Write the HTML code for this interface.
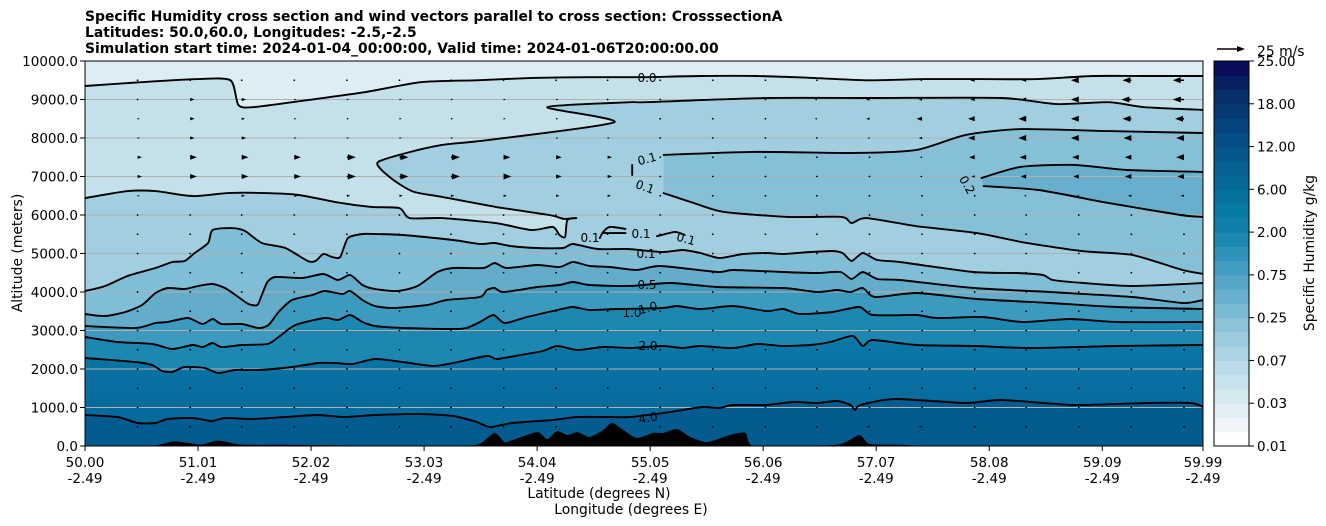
<!DOCTYPE html>
<html><head><meta charset="utf-8"><style>
html,body{margin:0;padding:0;background:#fff}
svg{display:block;font-family:"DejaVu Sans","Liberation Sans",sans-serif}
</style></head><body>
<svg id="chart" width="1326" height="526" viewBox="0 0 1326 526" xmlns="http://www.w3.org/2000/svg">
<defs>
<clipPath id="plotclip"><rect x="85" y="61" width="1118" height="385"/></clipPath>
<linearGradient id="g20" gradientUnits="userSpaceOnUse" x1="0" y1="340" x2="0" y2="410"><stop offset="0" stop-color="#0a78a7"/><stop offset="1" stop-color="#066a9c"/></linearGradient>
</defs>
<g font-weight="bold" font-size="13.9" fill="#000">
<text x="85" y="21">Specific Humidity cross section and wind vectors parallel to cross section: CrosssectionA</text>
<text x="85" y="37">Latitudes: 50.0,60.0, Longitudes: -2.5,-2.5</text>
<text x="85" y="53">Simulation start time: 2024-01-04_00:00:00, Valid time: 2024-01-06T20:00:00.00</text>
</g>
<g id="plot" clip-path="url(#plotclip)"></g>
<g id="axes"></g>
<g id="cbar"></g>
</svg>
<script>
// ---------- data ----------
const xTickLats = [50.00,51.01,52.02,53.03,54.04,55.05,56.06,57.07,58.08,59.09,59.99];
const xTickLabels = ['50.00','51.01','52.02','53.03','54.04','55.05','56.06','57.07','58.08','59.09','59.99'];
const xTickLons = ['-2.49','-2.49','-2.49','-2.49','-2.49','-2.49','-2.49','-2.49','-2.49','-2.49','-2.49'];
const yTicks = [0,1000,2000,3000,4000,5000,6000,7000,8000,9000,10000];
const cbTickLabels = ['0.01','0.03','0.07','0.25','0.75','2.00','6.00','12.00','18.00','25.00'];

const lineA = [[50.0,9350],[50.5,9450],[51.0,9530],[51.3,9500],[51.37,8860],[51.5,8800],[52.0,8990],[52.5,9190],[53.0,9450],[53.5,9500],[54.0,9560],[54.5,9580],[55.0,9580],[55.5,9610],[56.0,9610],[56.5,9560],[57.0,9500],[57.5,9530],[58.0,9530],[58.5,9530],[59.0,9610],[59.5,9610],[59.99,9610]];
const lineB = [[59.99,8730],[59.47,8800],[59.15,8930],[58.68,8880],[58.19,9040],[57.05,9040],[56.09,9040],[55.0,8930],[54.87,8930],[54.13,8800],[54.73,8410],[53.61,7950],[53.19,7820],[52.87,7610],[52.62,7380],[52.65,7170],[52.78,6860],[52.94,6600],[53.19,6470],[53.67,6210],[54.15,6000],[54.28,5900],[54.39,5920],[54.31,5870],[54.29,5430],[54.24,5480],[54.18,5690],[53.99,5610],[53.67,5790],[53.19,5920],[52.90,5920],[52.81,6180],[52.56,6210],[52.23,6340],[51.91,6520],[51.60,6570],[51.28,6570],[50.96,6490],[50.63,6620],[50.38,6620],[50.00,6440]];
const lineC0 = [[54.89,7300],[54.89,7040]];
const lineC = [[55.17,7560],[55.96,7640],[56.85,7610],[57.43,7690],[57.87,8080],[58.36,8230],[59.15,8180],[59.99,8130]];
const lineD1 = [[58.01,6960],[58.36,7250],[58.84,7300],[59.31,7170],[59.99,7120]];
const lineD2 = [[58.03,6750],[58.52,6650],[59.15,6310],[59.79,6000],[59.99,5950]];
const lineE = [[55.17,6570],[55.45,6300],[55.71,6080],[56.28,5950],[56.76,5950],[56.85,5790],[56.98,5920],[57.43,5710],[57.97,5530],[58.42,5270],[58.92,5060],[59.36,4960],[59.81,4570],[59.99,4470]];
const lineF1 = [[54.60,5400],[54.63,5560],[54.69,5690],[54.83,5640]];
const lineF2 = [[54.63,5530],[54.83,5530]];
const lineF3 = [[55.11,5450],[55.27,5560],[55.36,5480]];
const lineG = [[50.00,4025],[50.18,4155],[50.38,4415],[50.63,4623],[50.78,4778],[50.89,4804],[50.98,5012],[51.10,5272],[51.14,5610],[51.31,5661],[51.43,5584],[51.58,5272],[51.79,5142],[51.99,4804],[52.06,4804],[52.13,4986],[52.21,4908],[52.28,4908],[52.35,5402],[52.48,5506],[52.59,5506],[52.84,5480],[53.29,5350],[53.53,5246],[53.66,5272],[53.80,5194],[54.04,5142],[54.27,5142],[54.36,5246],[54.58,5116],[54.85,5116],[55.16,5038],[55.34,5090],[55.50,5012],[55.67,4882],[55.88,4986],[56.09,5012],[56.24,4986],[56.48,5038],[56.68,5064],[56.77,5012],[56.85,4804],[56.95,5012],[57.08,4830],[57.28,4778],[57.94,4519],[58.33,4493],[58.56,4441],[58.65,4311],[58.92,4233],[59.36,4155],[59.99,4233]];
const lineH = [[50.00,3428],[50.18,3376],[50.36,3480],[50.51,3662],[50.63,3973],[50.74,4103],[50.89,4077],[51.01,4155],[51.14,4207],[51.25,4103],[51.37,3870],[51.46,3688],[51.54,3662],[51.58,3921],[51.63,4259],[51.70,4389],[51.94,4363],[52.13,4467],[52.26,4311],[52.37,4441],[52.48,4181],[52.59,4077],[52.79,4025],[52.97,4155],[53.15,4519],[53.29,4623],[53.56,4623],[53.66,4752],[53.77,4623],[54.04,4701],[54.24,4649],[54.36,4778],[54.51,4675],[54.69,4649],[54.93,4571],[55.14,4675],[55.65,4519],[55.79,4571],[56.24,4519],[56.54,4493],[56.75,4519],[56.85,4337],[56.95,4519],[57.08,4337],[57.28,4311],[57.94,4103],[58.62,3999],[59.36,3870],[59.81,3714],[59.99,3792]];
const line05 = [[50.00,3116],[50.45,3064],[50.63,3194],[50.74,3220],[50.92,3324],[51.05,3168],[51.14,3298],[51.22,3168],[51.40,3168],[51.55,3064],[51.64,3142],[51.73,3480],[51.85,3792],[52.03,3921],[52.14,4025],[52.30,3947],[52.37,4025],[52.48,3792],[52.59,3636],[52.75,3584],[53.06,3662],[53.23,3792],[53.53,3870],[53.59,4051],[53.66,4103],[53.74,3999],[54.04,4129],[54.24,4181],[54.36,4259],[54.51,4181],[54.87,4155],[55.23,4233],[55.65,4129],[56.24,4103],[56.54,3999],[56.72,4051],[56.84,3999],[56.95,4103],[57.06,3870],[57.43,3973],[57.97,3818],[58.62,3714],[59.22,3610],[59.99,3558]];
const line10 = [[50.00,2831],[50.29,2701],[50.60,2649],[50.78,2519],[50.96,2623],[51.05,2571],[51.14,2675],[51.22,2571],[51.40,2623],[51.63,2649],[51.73,2831],[51.88,3142],[52.14,3324],[52.26,3272],[52.37,3402],[52.48,3220],[52.59,3116],[52.84,3064],[53.29,3038],[53.41,3064],[53.53,3220],[53.65,3402],[53.75,3194],[53.95,3350],[54.22,3532],[54.36,3610],[54.51,3532],[54.75,3558],[55.16,3584],[55.29,3636],[55.50,3558],[55.79,3636],[56.09,3506],[56.24,3558],[56.39,3428],[56.68,3480],[56.92,3610],[57.04,3402],[57.43,3402],[57.61,3324],[58.02,3350],[58.38,3220],[58.80,3298],[59.22,3220],[59.99,3220]];
const line20 = [[50.00,2285],[50.45,2181],[50.60,2104],[50.69,1948],[50.78,1922],[50.89,2052],[51.07,2026],[51.19,1896],[51.34,1974],[51.55,1974],[51.85,2052],[52.08,2156],[52.23,2156],[52.39,2130],[52.59,2259],[52.84,2181],[53.11,2078],[53.29,2156],[53.59,2337],[53.68,2259],[53.89,2363],[54.09,2467],[54.22,2597],[54.40,2493],[54.63,2571],[54.87,2545],[55.16,2597],[55.34,2545],[55.50,2597],[55.79,2545],[56.01,2649],[56.24,2597],[56.48,2623],[56.66,2701],[56.86,2857],[56.95,2597],[57.04,2753],[57.43,2623],[57.97,2597],[58.44,2545],[59.22,2597],[59.99,2623]];
const line40 = [[50.00,805],[50.29,753],[50.47,597],[50.63,597],[50.74,701],[50.96,727],[51.13,649],[51.25,727],[51.49,701],[51.79,753],[52.08,805],[52.32,753],[52.59,805],[52.99,831],[53.29,779],[53.50,623],[53.62,493],[53.82,597],[54.18,675],[54.40,753],[54.63,753],[54.87,753],[55.17,857],[55.34,935],[55.52,1013],[55.67,987],[55.79,1065],[56.09,1065],[56.33,1143],[56.54,1117],[56.72,1169],[56.84,1065],[56.88,935],[56.93,1065],[57.24,1221],[57.87,1117],[58.19,1195],[58.84,1065],[59.47,1117],[59.88,1117],[59.99,1013]];
const terrain = [[50.00,0],[50.58,0],[50.80,120],[51.03,40],[51.19,140],[51.39,40],[51.74,30],[52.19,20],[52.81,0],[53.35,0],[53.53,60],[53.66,340],[53.75,100],[53.82,155],[54.04,360],[54.13,180],[54.22,390],[54.31,285],[54.40,360],[54.51,235],[54.63,415],[54.71,600],[54.81,415],[54.93,210],[55.08,340],[55.17,340],[55.29,440],[55.41,235],[55.56,100],[55.76,285],[55.90,340],[55.97,0],[56.39,0],[56.75,50],[56.92,285],[57.01,60],[57.28,30],[57.73,0],[59.99,0]];

const windLats = [50.47,50.94,51.40,51.87,52.34,52.81,53.27,53.74,54.21,54.67,55.14,55.61,56.08,56.54,57.01,57.48,57.95,58.41,58.88,59.35,59.82];
const windAlts = [9500,9000,8500,8000,7500,7000,6500,6000,5500,5000,4500,4000,3500,3000,2500,2000,1500,1000,500];
const u9500 = [1,1,1,1,1,1,1,1,1,1,1,0,-1,-1,-1,-2,-4,-4,-7,-8,-10];
const u9000 = [1,4,4,2,2,2,2,2,2,1,1,0,0,-2,-3,-3,-4,-5,-7,-9,-10];
const u8500 = [2,4,3,2,2,2,2,2,2,2,1,0,-1,-2,-3,-5,-6,-7,-7,-8,-8];
const u8000 = [2,4,4,2,2,2,2,2,2,2,0,0,0,-1,-2,-3,-6,-7,-7,-7,-7];
const u7500 = [4,6,6,6,8,8,8,6,5,4,0,0,0,-1,-1,-2,-5,-6,-6,-6,-7];
const u7000 = [4,6,6,6,8,8,8,7,5,4,0,0,0,0,-1,-2,-3,-5,-5,-6,-6];
const u6500 = [2,3,3,3,3,3,3,3,3,3,0,0,0,0,0,-1,-1,-2,-2,-3,-3];
const u6000 = [1,1,1,1,1,1,1,1,1,1,0,0,0,0,0,0,0,0,0,0,0];
const u5500 = [0,0,0,0,0,0,0,0,0,0,0,0,0,0,0,0,0,0,0,0,0];
const u5000 = [0,0,0,0,0,0,0,0,0,0,0,0,0,0,0,0,0,0,0,0,0];
const u4500 = [0,0,0,0,0,0,0,0,0,0,0,0,0,0,0,0,0,0,0,0,0];
const u4000 = [0,0,0,0,0,0,0,0,0,0,0,0,0,0,0,0,0,0,0,0,0];
const u3500 = [0,0,0,0,0,0,0,0,0,0,0,0,0,0,0,0,0,0,0,0,0];
const u3000 = [0,0,0,0,0,0,0,0,0,0,0,0,0,0,0,0,0,0,0,0,0];
const u2500 = [0,0,0,0,0,0,0,0,0,0,0,0,0,0,0,0,0,0,0,0,0];
const u2000 = [0,0,0,0,0,0,0,0,0,0,0,0,0,0,0,0,0,0,0,0,0];
const u1500 = [0,0,0,0,0,0,0,0,0,0,0,0,0,0,0,0,0,0,0,0,0];
const u1000 = [0,0,0,0,0,0,0,0,0,0,0,0,0,0,0,0,0,0,0,0,0];
const u500  = [0,0,0,0,0,0,0,0,0,0,0,0,0,0,-3,-3,0,0,0,0,0];
const windU = [u9500,u9000,u8500,u8000,u7500,u7000,u6500,u6000,u5500,u5000,u4500,u4000,u3500,u3000,u2500,u2000,u1500,u1000,u500];
const keySpeed = 25;

// ---------- scales ----------
const X0=85, X1=1203, Y0=446, Y1=61;
const latMin=50, latMax=59.99, altMax=10000;
function xS(lat){return X0+(lat-latMin)/(latMax-latMin)*(X1-X0);}
function yS(alt){return Y0-alt/altMax*(Y0-Y1);}
const pxPerMs = 28/keySpeed;
const NS='http://www.w3.org/2000/svg';
function mk(tag,attrs,parent){const e=document.createElementNS(NS,tag);for(const k in attrs)e.setAttribute(k,attrs[k]);parent.appendChild(e);return e;}
function toPx(line){return line.map(p=>[xS(p[0]),yS(p[1])]);}
// smooth path (Catmull-Rom), continuing an existing path if cont=true
function smooth(P,cont){
  let d=(cont?'L':'M')+P[0][0].toFixed(1)+','+P[0][1].toFixed(1);
  const t=0.35;
  for(let i=0;i<P.length-1;i++){
    const p0=P[i-1]||P[i],p1=P[i],p2=P[i+1],p3=P[i+2]||P[i+1];
    const c1=[p1[0]+(p2[0]-p0[0])*t/2*1.0/1.5,p1[1]+(p2[1]-p0[1])*t/2/1.5];
    const c2=[p2[0]-(p3[0]-p1[0])*t/2/1.5,p2[1]-(p3[1]-p1[1])*t/2/1.5];
    d+=' C'+c1[0].toFixed(1)+','+c1[1].toFixed(1)+' '+c2[0].toFixed(1)+','+c2[1].toFixed(1)+' '+p2[0].toFixed(1)+','+p2[1].toFixed(1);
  }
  return d;
}

const plot=document.getElementById('plot');
const axes=document.getElementById('axes');
const cbar=document.getElementById('cbar');

let bg=mk('rect',{x:X0,y:Y1,width:X1-X0,height:Y0-Y1,fill:'#dcedf3'},plot);



function fillBelow(line,color,name){
  const P=toPx(line);
  const f=P[0], l=P[P.length-1];
  const xf=f[0]>l[0]?X1+5:X0-5, xl=l[0]>f[0]?X1+5:X0-5;
  let d='M'+xf+','+f[1]+' '+smooth(P,true)+' L'+xl+','+l[1]+' L'+xl+','+(Y0+10)+' L'+xf+','+(Y0+10)+' Z';
  const p=mk('path',{d:d,fill:color},plot);
  
  
}
function fillBetween(l1,l2,color,name){
  const d=smooth(toPx(l1),false)+' '+smooth(toPx(l2).reverse(),true)+' Z';
  const p=mk('path',{d:d,fill:color},plot);
  
  
}
fillBelow(lineA,'#c4e1ea','fill-below-0.0');
fillBelow(lineB,'#a2cfdf','fill-below-0.1');
fillBetween(lineC,lineE,'#86c0d7','fill-0.1-0.2');
fillBetween(lineD1,lineD2,'#68afcd','fill-above-0.2');
fillBelow(lineG,'#80bdd6','fill-below-0.1-lower');
fillBelow(lineH,'#63adcb','fill-0.25');
fillBelow(line05,'#3d9abf','fill-0.5');
fillBelow(line10,'#1c88b2','fill-1.0');
fillBelow(line20,'url(#g20)','fill-2.0');
fillBelow(line40,'#045b90','fill-4.0');

yTicks.forEach(a=>{
  if(a===0||a===altMax) return;
  const g=mk('line',{x1:X0,x2:X1,y1:yS(a),y2:yS(a),stroke:'#b0b0b0','stroke-width':1},plot);
  
  
});

(function(){
  const P=toPx(terrain);
  const d=smooth(P,false)+' L'+(X1+5)+','+(Y0+10)+' L'+(X0-5)+','+(Y0+10)+' Z';
  const t=mk('path',{d:d,fill:'#000'},plot);
  
  
})();

const contourLines=[['contour-0.0',lineA],['contour-0.1-upper',lineB],['contour-0.1-tick',lineC0],['contour-0.1-mid',lineC],['contour-0.2-upper',lineD1],['contour-0.2-lower',lineD2],['contour-0.1-e',lineE],['contour-0.1-f1',lineF1],['contour-0.1-f2',lineF2],['contour-0.1-f3',lineF3],['contour-0.1-lower',lineG],['contour-0.25',lineH],['contour-0.5',line05],['contour-1.0',line10],['contour-2.0',line20],['contour-4.0',line40]];
contourLines.forEach(c=>{
  const l=mk('path',{d:smooth(toPx(c[1]),false),fill:'none',stroke:'#000','stroke-width':1.9,'stroke-linejoin':'round','stroke-linecap':'round'},plot);
  
  
});

const cLabels=[['0.0',647,82,0],['0.1',647,163,-15],['0.1',645,191,20],['0.1',590,242,0],['0.1',641,238,0],['0.1',686,243,15],['0.1',646,258,0],['0.5',647,289,0],['1.0',632,317,0],['1.0',648,312,-15],['2.0',648,350,0],['4.0',648,422,-10],['0.2',967,189,60]];
cLabels.forEach(c=>{
  const t=mk('text',{x:c[1],y:c[2],'font-size':12,'text-anchor':'middle',fill:'#000',transform:'rotate('+c[3]+' '+c[1]+' '+(c[2]-4)+')'},plot);
  t.textContent=c[0];
  
  
});

function arrow(x,y,u,parent){
  const L=Math.abs(u)*pxPerMs, s=u<0?-1:1;
  let el;
  if(L<1.5){
    el=mk('circle',{cx:x,cy:y,r:0.9,fill:'#000'},parent);
  } else {
    const hl=8, hw=3;
    let d;
    if(L<=hl){const k=L/hl;d=`M${x},${y-hw*k} L${x+s*L},${y} L${x},${y+hw*k} Z`;}
    else{const w=0.8;d=`M${x},${y-w} L${x+s*(L-hl)},${y-w} L${x+s*(L-hl)},${y-hw} L${x+s*L},${y} L${x+s*(L-hl)},${y+hw} L${x+s*(L-hl)},${y+w} L${x},${y+w} Z`;}
    el=mk('path',{d:d,fill:'#000'},parent);
  }
  return el;
}
const wg=mk('g',{},plot);


windAlts.forEach((a,i)=>{
  windLats.forEach((lat,j)=>{
    const el=arrow(xS(lat),yS(a),windU[i][j],wg);
    
    
  });
});

let fr=mk('rect',{x:X0,y:Y1,width:X1-X0,height:Y0-Y1,fill:'none',stroke:'#000','stroke-width':1},axes);


yTicks.forEach(a=>{
  const y=yS(a);
  const tk=mk('line',{x1:X0-5,x2:X0,y1:y,y2:y,stroke:'#000','stroke-width':1},axes);
  
  
  const t=mk('text',{x:X0-7,y:y+5,'font-size':13.5,'text-anchor':'end'},axes);
  t.textContent=a.toFixed(1);
  
  
});
xTickLats.forEach((lat,i)=>{
  const x=xS(lat);
  const tk=mk('line',{x1:x,x2:x,y1:Y0,y2:Y0+5,stroke:'#000','stroke-width':1},axes);
  
  
  const t=mk('text',{x:x,y:467,'font-size':13.5,'text-anchor':'middle'},axes);
  t.textContent=xTickLabels[i];
  
  
  const t2=mk('text',{x:x,y:483,'font-size':13.5,'text-anchor':'middle'},axes);
  t2.textContent=xTickLons[i];
  
  
});
let xl=mk('text',{x:599,y:498,'font-size':13.9,'text-anchor':'middle'},axes);
xl.textContent='Latitude (degrees N)';


let xl2=mk('text',{x:631,y:514,'font-size':13.9,'text-anchor':'middle'},axes);
xl2.textContent='Longitude (degrees E)';


let yl=mk('text',{x:22,y:253,'font-size':13.9,'text-anchor':'middle',transform:'rotate(-90 22 253)'},axes);
yl.textContent='Altitude (meters)';



const CB={x:1214,w:35,top:61,bot:446,n:27};
const anchors=[[0,'#ffffff'],[0.04,'#eef5f8'],[0.12,'#d3e8f0'],[0.22,'#b0d6e3'],[0.33,'#82bfd6'],[0.44,'#4ea2c5'],[0.55,'#1585b0'],[0.63,'#0477a4'],[0.72,'#066396'],[0.82,'#064b83'],[0.92,'#07306b'],[1,'#080f58']];
function hex(c){return [1,3,5].map(i=>parseInt(c.substr(i,2),16));}
function interp(t){for(let i=1;i<anchors.length;i++){if(t<=anchors[i][0]){const a=anchors[i-1],b=anchors[i];const f=(t-a[0])/(b[0]-a[0]);const ca=hex(a[1]),cb=hex(b[1]);return 'rgb('+ca.map((v,k)=>Math.round(v+(cb[k]-v)*f)).join(',')+')';}}return anchors[anchors.length-1][1];}
const bh=(CB.bot-CB.top)/CB.n;
for(let i=0;i<CB.n;i++){
  const r=mk('rect',{x:CB.x,y:CB.bot-(i+1)*bh,width:CB.w,height:bh+0.5,fill:interp(i/(CB.n-1))},cbar);
  
  
}
let cbf=mk('rect',{x:CB.x,y:CB.top,width:CB.w,height:CB.bot-CB.top,fill:'none',stroke:'#000','stroke-width':1},cbar);


cbTickLabels.forEach((lab,i)=>{
  const y=CB.bot-i*(CB.bot-CB.top)/(cbTickLabels.length-1);
  const tk=mk('line',{x1:CB.x+CB.w,x2:CB.x+CB.w+5,y1:y,y2:y,stroke:'#000','stroke-width':1},cbar);
  
  
  const t=mk('text',{x:1257,y:y+5,'font-size':13.5},cbar);
  t.textContent=lab;
  
  
});
let cbl=mk('text',{x:1314,y:253,'font-size':13.9,'text-anchor':'middle',transform:'rotate(-90 1314 253)'},cbar);
cbl.textContent='Specific Humidity g/kg';


const kg=mk('g',{},cbar);


arrow(1217,49,keySpeed,kg);
let kt=mk('text',{x:1257,y:56,'font-size':13.9},kg);
kt.textContent='25 m/s';


</script>
</body></html>
